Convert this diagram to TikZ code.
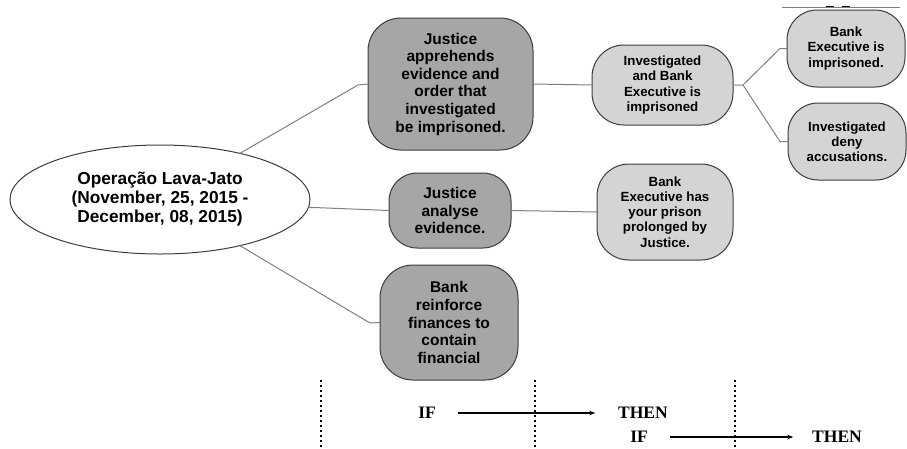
\documentclass[tikz,border=0pt]{standalone}
\usepackage{fontspec}
\setmainfont{Liberation Sans}
\newfontfamily\serifbold{Liberation Serif}
\usetikzlibrary{shapes.geometric,arrows.meta}
\definecolor{darkc}{HTML}{A6A6A6}
\definecolor{lightc}{HTML}{D4D4D4}
\definecolor{bordc}{HTML}{3C3C3C}
\definecolor{linkc}{HTML}{808080}
\newcommand\fdark{\fontsize{15.5}{17.6}\selectfont\bfseries}
\newcommand\flight{\fontsize{13.3}{15.2}\selectfont\bfseries}
\newcommand\fell{\fontsize{17.3}{19}\selectfont\bfseries}
\newcommand\fif{\serifbold\fontsize{17.5}{19}\selectfont\bfseries}
\tikzset{
  darkbox/.style={draw=bordc, fill=darkc, line width=1pt, rounded corners=33pt,
    align=center, inner sep=0pt, outer sep=0pt, font=\fdark},
  lightbox/.style={draw=bordc, fill=lightc, line width=1pt, rounded corners=32pt,
    align=center, inner sep=0pt, outer sep=0pt, font=\flight},
  link/.style={draw=linkc, line width=1pt},
  vsep/.style={draw=black, line width=1.3pt, dash pattern=on 2pt off 3pt},
  ifthen/.style={inner sep=0pt, outer sep=0pt, font=\fif},
  implies/.style={draw=black, line width=1.2pt, -{Stealth[length=6pt,width=4.5pt]}}
}
\begin{document}
\begin{tikzpicture}[x=1pt,y=-1pt]
\useasboundingbox (0,0) rectangle (907,448);
\fill[white] (0,0) rectangle (907,448);

% small artefact line at the top right
\draw[linkc, line width=0.5pt] (782,7) -- (900,7);
\draw[black, line width=1.5pt] (826,6.5) -- (834,6.5);
\draw[black, line width=1.5pt] (842,6.5) -- (850,6.5);

% nodes
\node[ellipse, draw=bordc, fill=white, line width=1pt, minimum width=300pt, minimum height=109pt,
      inner sep=0pt, outer sep=0pt, align=center, font=\fell] (ell) at (160,199.5)
      {Operação Lava-Jato\\(November, 25, 2015 -\\December, 08, 2015)};

\node[darkbox, minimum width=165pt, minimum height=132pt] (A) at (450.5,84)
  {Justice\\apprehends\\evidence and\\order that\\investigated\\be imprisoned.};
\node[darkbox, minimum width=122pt, minimum height=75pt, rounded corners=28pt] (E) at (450,210.5)
  {Justice\\analyse\\evidence.};
\node[darkbox, minimum width=138pt, minimum height=115pt] (G) at (449,322.5)
  {Bank\\reinforce\\finances to\\contain\\financial};

\node[lightbox, minimum width=141pt, minimum height=80pt] (B) at (662.5,85)
  {Investigated\\and Bank\\Executive is\\imprisoned};
\node[lightbox, minimum width=136pt, minimum height=96pt] (F) at (665,212)
  {Bank\\Executive has\\your prison\\prolonged by\\Justice.};
\node[lightbox, minimum width=118pt, minimum height=77pt, rounded corners=30pt] (C) at (846,48.5)
  {Bank\\Executive is\\imprisoned.};
\node[lightbox, minimum width=118pt, minimum height=77pt, rounded corners=30pt] (D) at (847,141.5)
  {Investigated\\deny\\accusations.};

% connectors
\coordinate (a1) at (358,85);
\coordinate (g1) at (370,323);
\coordinate (fk) at (743,85);
\coordinate (c1) at (780,48.5);
\coordinate (d1) at (780,141.5);

\draw[link] (ell.30) -- (a1) -- (A.west);
\draw[link] (ell.-3) -- (E.west);
\draw[link] (ell.-30) -- (g1) -- (G.west);
\draw[link] (A.east) -- (B.west);
\draw[link] (E.east) -- (F.west);
\draw[link] (B.east) -- (fk) -- (c1) -- (C.west);
\draw[link] (fk) -- (d1) -- (D.west);

% IF / THEN strip
\draw[vsep] (321,380) -- (321,448);
\draw[vsep] (535,380) -- (535,448);
\draw[vsep] (735,380) -- (735,448);

\node[ifthen] (if1) at (427,413) {IF};
\node[ifthen] (then1) at (643,413) {THEN};
\node[ifthen] (if2) at (639,437) {IF};
\node[ifthen] (then2) at (837,437) {THEN};

\draw[implies, shorten <=22pt, shorten >=23pt] (if1.east) -- (then1.west);
\draw[implies, shorten <=22pt, shorten >=19pt] (if2.east) -- (then2.west);
\end{tikzpicture}
\end{document}
